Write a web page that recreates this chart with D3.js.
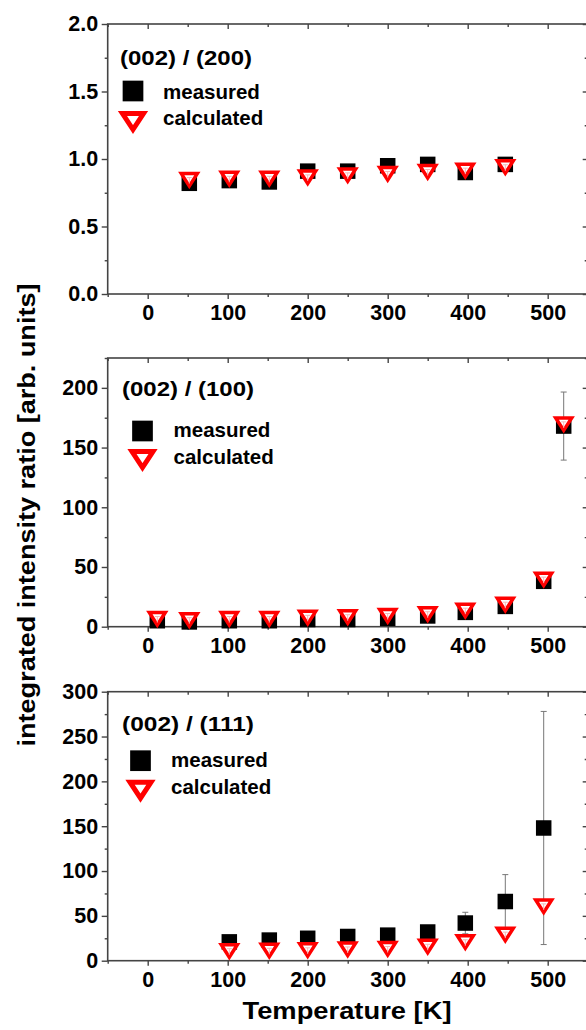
<!DOCTYPE html>
<html>
<head>
<meta charset="utf-8">
<script src="https://cdn.jsdelivr.net/npm/d3@7"></script>
<style>
  html, body { margin: 0; padding: 0; background: #fff; }
  svg { display: block; }
  text { font-family: "Liberation Sans", Arial, Helvetica, sans-serif; font-weight: bold; fill: #000; }
</style>
</head>
<body>
<svg id="chart" width="586" height="1030"></svg>
<script>
// ---------- data ----------
const xTicks = [0, 100, 200, 300, 400, 500];
const xMinorTicks = [-50, 50, 150, 250, 350, 450, 550];
const seriesNames = ["measured", "calculated"];
const panelTitles = ["(002) / (200)", "(002) / (100)", "(002) / (111)"];

// panel 1: (002)/(200)
const temps1 = [52, 102, 152, 200, 250, 300, 350, 397, 447];
const measured1 = [0.82, 0.84, 0.83, 0.91, 0.91, 0.95, 0.96, 0.90, 0.96];
const calculated1 = [0.84, 0.85, 0.85, 0.86, 0.875, 0.885, 0.90, 0.91, 0.935];
const measErr1 = [0, 0, 0, 0, 0, 0, 0, 0, 0];
const yTicks1 = [0, 0.5, 1.0, 1.5, 2.0];

// panel 2: (002)/(100)
const temps2 = [12, 52, 102, 152, 200, 250, 300, 350, 397, 447, 495, 520];
const measured2 = [5, 4, 5, 5, 6, 6, 7, 9, 12, 17, 38, 168];
const calculated2 = [6, 5, 6, 6, 7, 7.5, 8.5, 10, 13, 18, 39, 169];
const measErr2 = [0, 0, 0, 0, 0, 0, 4, 5, 4, 4, 4, 28.5];
const yTicks2 = [0, 50, 100, 150, 200];

// panel 3: (002)/(111)
const temps3 = [102, 152, 200, 250, 300, 350, 397, 447, 495];
const measured3 = [21, 23, 25, 27, 28.5, 32, 42, 66, 148];
const calculated3 = [10, 10.5, 11, 12, 12.5, 15, 20, 28.5, 60];
const measErr3 = [0, 0, 0, 0, 0, 0, 12, 30, 130];
const yTicks3 = [0, 50, 100, 150, 200, 250, 300];

// ---------- layout ----------
const svg = d3.select("#chart");
const xLeft = 107.7, xRight = 587.7;
const x = d3.scaleLinear().domain([-50, 550]).range([xLeft, xRight]);
const axisColor = "#444";

const panels = [
  { title: panelTitles[0], temps: temps1, meas: measured1, calc: calculated1, err: measErr1,
    yDomain: [0, 2], top: 24, bottom: 294, ticks: yTicks1, minorStep: 0.25, fmt: d3.format(".1f"),
    leg: { hx: 120, hy: 41, sx: 133, sy: 67, tx: 163, my: 75, ty: 98, cy: 101 } },
  { title: panelTitles[1], temps: temps2, meas: measured2, calc: calculated2, err: measErr2,
    yDomain: [0, 225], top: 358, bottom: 626.7, ticks: yTicks2, minorStep: 25, fmt: d3.format("d"),
    leg: { hx: 122, hy: 38, sx: 142.5, sy: 73, tx: 173.5, my: 79, ty: 102, cy: 106 } },
  { title: panelTitles[2], temps: temps3, meas: measured3, calc: calculated3, err: measErr3,
    yDomain: [0, 300], top: 691.7, bottom: 960.7, ticks: yTicks3, minorStep: 25, fmt: d3.format("d"),
    leg: { hx: 122, hy: 39, sx: 140.5, sy: 69, tx: 171, my: 75.5, ty: 99, cy: 102 } }
];

function triPath(hw, top, tip) {
  return `M${-hw},${top} L${hw},${top} L0,${tip} Z`;
}

panels.forEach(p => {
  const y = d3.scaleLinear().domain(p.yDomain).range([p.bottom, p.top]);
  const g = svg.append("g");
  const minorY = d3.range(p.yDomain[0], p.yDomain[1] + p.minorStep / 2, p.minorStep)
    .filter(v => !p.ticks.some(t => Math.abs(t - v) < 1e-9));

  // bottom axis (outward ticks, labels)
  const bAx = g.append("g").attr("transform", `translate(0,${p.bottom})`)
    .call(d3.axisBottom(x).tickValues(xTicks).tickSize(5).tickPadding(6).tickSizeOuter(0));
  bAx.select(".domain").remove();
  bAx.selectAll("text").style("font-size", "21.5px");
  const bMin = g.append("g").attr("transform", `translate(0,${p.bottom})`)
    .call(d3.axisBottom(x).tickValues(xMinorTicks).tickSize(3).tickFormat(""));
  bMin.select(".domain").remove();

  // top axis (inward ticks)
  const tAx = g.append("g").attr("transform", `translate(0,${p.top})`)
    .call(d3.axisBottom(x).tickValues(xTicks).tickSize(5).tickFormat(""));
  tAx.select(".domain").remove();
  const tMin = g.append("g").attr("transform", `translate(0,${p.top})`)
    .call(d3.axisBottom(x).tickValues(xMinorTicks).tickSize(3).tickFormat(""));
  tMin.select(".domain").remove();

  // left axis (outward ticks, labels)
  const lAx = g.append("g").attr("transform", `translate(${xLeft},0)`)
    .call(d3.axisLeft(y).tickValues(p.ticks).tickSize(6).tickPadding(3.5).tickFormat(p.fmt));
  lAx.select(".domain").remove();
  lAx.selectAll("text").style("font-size", "21.5px");
  const lMin = g.append("g").attr("transform", `translate(${xLeft},0)`)
    .call(d3.axisLeft(y).tickValues(minorY).tickSize(3).tickFormat(""));
  lMin.select(".domain").remove();

  // right axis (inward ticks)
  const rAx = g.append("g").attr("transform", `translate(${xRight},0)`)
    .call(d3.axisLeft(y).tickValues(p.ticks).tickSize(5).tickFormat(""));
  rAx.select(".domain").remove();
  const rMin = g.append("g").attr("transform", `translate(${xRight},0)`)
    .call(d3.axisLeft(y).tickValues(minorY).tickSize(3).tickFormat(""));
  rMin.select(".domain").remove();

  g.selectAll(".tick line").attr("stroke", axisColor).attr("stroke-width", 1.4);

  // frame
  g.append("rect")
    .attr("x", xLeft).attr("y", p.top)
    .attr("width", xRight - xLeft).attr("height", p.bottom - p.top)
    .attr("fill", "none").attr("stroke", axisColor).attr("stroke-width", 1.6);

  // data
  const data = p.temps.map((t, i) => ({ t, m: p.meas[i], c: p.calc[i], e: p.err[i] }));

  // error bars (measured)
  const eb = g.append("g").attr("stroke", "#777").attr("stroke-width", 1);
  data.filter(d => d.e > 0).forEach(d => {
    const cx = x(d.t);
    eb.append("line").attr("x1", cx).attr("x2", cx).attr("y1", y(d.m - d.e)).attr("y2", y(d.m + d.e));
    eb.append("line").attr("x1", cx - 3).attr("x2", cx + 3).attr("y1", y(d.m + d.e)).attr("y2", y(d.m + d.e));
    eb.append("line").attr("x1", cx - 3).attr("x2", cx + 3).attr("y1", y(d.m - d.e)).attr("y2", y(d.m - d.e));
  });

  // measured squares
  const sq = 15.5;
  g.append("g").selectAll("rect").data(data).join("rect")
    .attr("x", d => x(d.t) - sq / 2).attr("y", d => y(d.m) - sq / 2)
    .attr("width", sq).attr("height", sq).attr("fill", "#000");

  // calculated triangles
  const tri = g.append("g").selectAll("g").data(data).join("g")
    .attr("transform", d => `translate(${x(d.t)},${y(d.c)})`);
  tri.append("path").attr("d", triPath(8, -7, 5.5))
    .attr("fill", "#fff").attr("stroke", "#f00").attr("stroke-width", 3.5)
    .attr("stroke-linejoin", "miter");
  tri.append("path").attr("d", "M0,-3 L0,3 M-2.5,-3 L2.5,-3")
    .attr("stroke", "#f4b4b4").attr("stroke-width", 1).attr("fill", "none");

  // legend
  const L = p.leg;
  g.append("text").attr("x", L.hx).attr("y", p.top + L.hy)
    .attr("textLength", 132).attr("lengthAdjust", "spacingAndGlyphs")
    .style("font-size", "21px").text(p.title);
  g.append("rect").attr("x", L.sx - 10.35).attr("y", p.top + L.sy - 10.35)
    .attr("width", 20.7).attr("height", 20.7).attr("fill", "#000");
  g.append("text").attr("x", L.tx).attr("y", p.top + L.my)
    .style("font-size", "20.5px").text(seriesNames[0]);
  g.append("path").attr("transform", `translate(${L.sx},${p.top + L.ty})`)
    .attr("d", triPath(10.5, -8.5, 7.5))
    .attr("fill", "#fff").attr("stroke", "#f00").attr("stroke-width", 5)
    .attr("stroke-linejoin", "miter");
  g.append("text").attr("x", L.tx).attr("y", p.top + L.cy)
    .style("font-size", "20.5px").text(seriesNames[1]);
});

// axis titles
svg.append("text")
  .attr("transform", "translate(35,515) rotate(-90)")
  .attr("text-anchor", "middle")
  .attr("textLength", 463).attr("lengthAdjust", "spacingAndGlyphs")
  .style("font-size", "23px")
  .text("integrated intensity ratio [arb. units]");

svg.append("text")
  .attr("x", 347).attr("y", 1019)
  .attr("text-anchor", "middle")
  .attr("textLength", 209).attr("lengthAdjust", "spacingAndGlyphs")
  .style("font-size", "23px")
  .text("Temperature [K]");
</script>
</body>
</html>
